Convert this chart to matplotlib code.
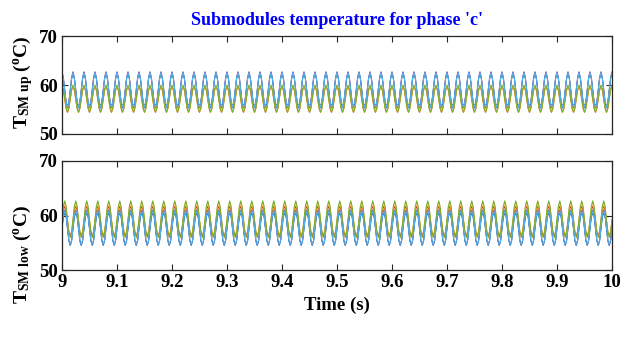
import numpy as np
import matplotlib.pyplot as plt

plt.rcParams['font.family'] = ['Liberation Serif', 'DejaVu Serif']
plt.rcParams['font.weight'] = 'bold'
plt.rcParams['mathtext.fontset'] = 'custom'
plt.rcParams['mathtext.rm'] = 'Liberation Serif:bold'
plt.rcParams['mathtext.bf'] = 'Liberation Serif:bold'
plt.rcParams['mathtext.it'] = 'Liberation Serif:bold'

# one 20 ms cycle (8 samples, starting at t = 9 s), repeated over the 50 cycles shown
T_START = 9.0
T_END = 10.0
PERIOD = 0.02
N_CYCLES = 50

colors = ['#0072BD', '#D95319', '#EDB120', '#7E2F8E', '#77AC30', '#4DBEEE']

# upper arm submodules
up_cycles = [
    [62.3, 61.2, 58.8, 56.3, 55.3, 56.3, 58.8, 61.2],
    [59.7, 58.9, 57.0, 55.2, 54.4, 55.2, 57.0, 58.9],
    [59.8, 59.0, 57.1, 55.3, 54.5, 55.3, 57.1, 59.0],
    [62.7, 61.6, 59.1, 56.6, 55.6, 56.6, 59.1, 61.6],
    [60.0, 59.2, 57.2, 55.3, 54.5, 55.3, 57.2, 59.2],
    [62.5, 61.4, 59.0, 56.5, 55.5, 56.5, 59.0, 61.4],
]

# lower arm submodules
low_cycles = [
    [57.5, 59.7, 60.5, 59.7, 57.5, 55.3, 54.5, 55.3],
    [59.0, 60.9, 61.7, 60.9, 59.0, 57.1, 56.3, 57.1],
    [59.2, 61.5, 62.5, 61.5, 59.2, 56.9, 55.9, 56.9],
    [57.8, 60.1, 61.0, 60.1, 57.8, 55.5, 54.6, 55.5],
    [59.3, 61.7, 62.7, 61.7, 59.3, 56.9, 56.0, 56.9],
    [57.7, 60.0, 60.8, 60.0, 57.7, 55.4, 54.7, 55.4],
]

x_ticks = [9, 9.1, 9.2, 9.3, 9.4, 9.5, 9.6, 9.7, 9.8, 9.9, 10]
x_tick_labels = ['9', '9.1', '9.2', '9.3', '9.4', '9.5', '9.6', '9.7', '9.8', '9.9', '10']
y_ticks = [50, 60, 70]

n_per = len(up_cycles[0])
t = T_START + np.arange(N_CYCLES * n_per + 1) * PERIOD / n_per


def full_wave(cycle):
    vals = np.tile(cycle, N_CYCLES)
    return np.append(vals, cycle[0])


fig = plt.figure(figsize=(6.3, 3.44), dpi=100)
ax1 = fig.add_axes([0.0984, 0.6105, 0.8730, 0.2848])
ax2 = fig.add_axes([0.0984, 0.2150, 0.8730, 0.3170])

for ax, cycles in [(ax1, up_cycles), (ax2, low_cycles)]:
    for c, cyc in zip(colors, cycles):
        ax.plot(t, full_wave(cyc), color=c, linewidth=0.7)
    ax.set_xlim(T_START, T_END)
    ax.set_ylim(50, 70)
    ax.set_xticks(x_ticks)
    ax.set_yticks(y_ticks)
    ax.tick_params(direction='in', top=True, right=True, length=4,
                   width=0.8, colors='#262626', labelsize=13.5, pad=3)
    for s in ax.spines.values():
        s.set_color('#262626')
        s.set_linewidth(0.9)
    for lab in ax.get_yticklabels():
        lab.set_color('black')

ax1.set_xticklabels([])
ax2.set_xticklabels(x_tick_labels)
for lab in ax2.get_xticklabels():
    lab.set_color('black')

ax1.set_title("Submodules temperature for phase 'c'", color='blue',
              fontsize=13, fontweight='bold', pad=8)
ax2.set_xlabel('Time (s)', fontsize=13.5, fontweight='bold', labelpad=4)

fig.text(0.036, 0.76, r'T$_{\mathrm{SM\ up}}$ ($^{\mathrm{o}}$C)', rotation=90,
         ha='center', va='center', fontsize=14, fontweight='bold')
fig.text(0.036, 0.26, r'T$_{\mathrm{SM\ low}}$ ($^{\mathrm{o}}$C)', rotation=90,
         ha='center', va='center', fontsize=14, fontweight='bold')

fig.savefig('out.png', dpi=100)
